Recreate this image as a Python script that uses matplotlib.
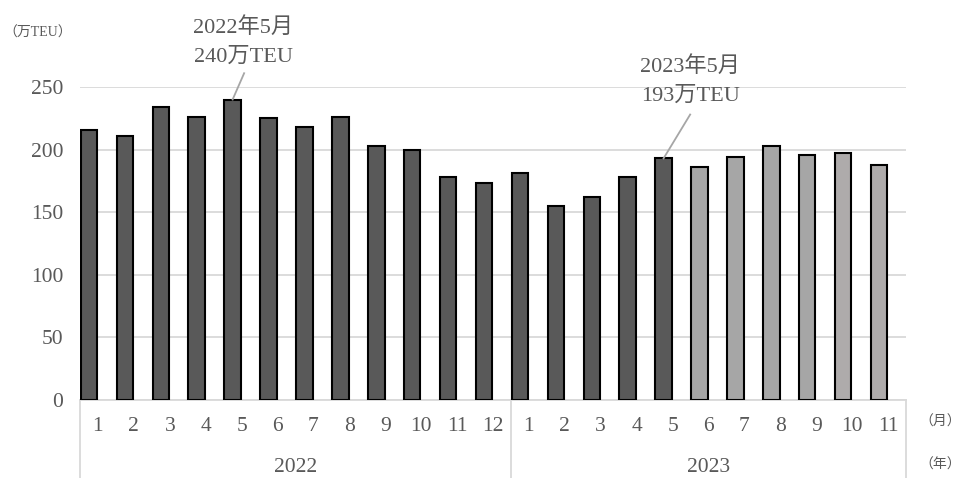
import numpy as np
import matplotlib.pyplot as plt
import matplotlib.transforms as mtransforms

plt.rcParams['font.family'] = ['Liberation Serif', 'Noto Sans CJK JP']

# データ（万TEU）
years = ['2022', '2023']
months_2022 = [1, 2, 3, 4, 5, 6, 7, 8, 9, 10, 11, 12]
months_2023 = [1, 2, 3, 4, 5, 6, 7, 8, 9, 10, 11]
vals_2022 = [216, 211, 234, 226, 240, 225, 218, 226, 203, 200, 178, 173]
vals_2023 = [181, 155, 162, 178, 193, 186, 194, 203, 196, 197, 188]
n_dark_2023 = 5  # 2023年1-5月は濃い色
n_warm_2023 = 2  # 2023年10-11月はやや暖色のグレー

dark = '#595959'
light = '#a6a6a6'
warm = '#aeabab'
txt = '#595959'
grid = '#d9d9d9'

labels = [str(m) for m in months_2022] + [str(m) for m in months_2023]
values = vals_2022 + vals_2023
colors = ([dark] * len(vals_2022) + [dark] * n_dark_2023
          + [light] * (len(vals_2023) - n_dark_2023 - n_warm_2023) + [warm] * n_warm_2023)
x = np.arange(len(values))

fig = plt.figure(figsize=(9.65, 4.78), dpi=100)
ax = fig.add_axes([80 / 965, 78 / 478, 826 / 965, 313 / 478])

# 棒は目盛りの左側に寄せる（元図と同じ）
ax.bar(x - 0.02, values, width=-0.46, align='edge', color=colors, edgecolor='black',
       linewidth=1.5, zorder=3)
ax.set_xlim(-0.5, len(values) - 0.5)
ax.set_ylim(0, 250)
ax.set_yticks(range(0, 251, 50))
ax.grid(axis='y', color=grid, linewidth=1.3, zorder=0)
for s in ['top', 'right', 'left']:
    ax.spines[s].set_visible(False)
ax.spines['bottom'].set_color(grid)
ax.spines['bottom'].set_linewidth(1.3)
ax.set_xticks(x)
ax.set_xticklabels(labels)
ax.tick_params(axis='x', length=0, pad=12, labelsize=15.5, labelcolor=txt)
ax.tick_params(axis='y', length=0, pad=12, labelsize=15.5, labelcolor=txt)

# 年の区切り線とラベル
trans = mtransforms.blended_transform_factory(ax.transData, ax.transAxes)
bounds = [-0.5, len(vals_2022) - 0.5, len(values) - 0.5]
for b in bounds:
    ax.plot([b, b], [0, -0.255], transform=trans, color=grid, linewidth=1.3, clip_on=False)
ax.text((bounds[0] + bounds[1]) / 2, -0.215, years[0], transform=trans, ha='center', va='center',
        fontsize=15.5, color=txt)
ax.text((bounds[1] + bounds[2]) / 2, -0.215, years[1], transform=trans, ha='center', va='center',
        fontsize=15.5, color=txt)

fig.text(940 / 965, 1 - 422 / 478, '（月）', ha='center', va='center', fontsize=10, color=txt)
fig.text(940 / 965, 1 - 465 / 478, '（年）', ha='center', va='center', fontsize=10, color=txt)
fig.text(38 / 965, 1 - 33 / 478, '（万TEU）', ha='center', va='center', fontsize=10, color=txt)

# 注記
ax.text(4.04, 266, '2022年5月\n240万TEU', ha='center', va='bottom', fontsize=16, color=txt,
        linespacing=1.7, clip_on=False)
ax.plot([4.07, 3.75], [261, 240], color='#a6a6a6', linewidth=1.3, clip_on=False, zorder=4)
ax.text(16.49, 235, '2023年5月\n193万TEU', ha='center', va='bottom', fontsize=16, color=txt,
        linespacing=1.7, clip_on=False)
ax.plot([16.49, 15.75], [228, 193], color='#a6a6a6', linewidth=1.3, clip_on=False, zorder=4)

plt.savefig('out.png', dpi=100)
